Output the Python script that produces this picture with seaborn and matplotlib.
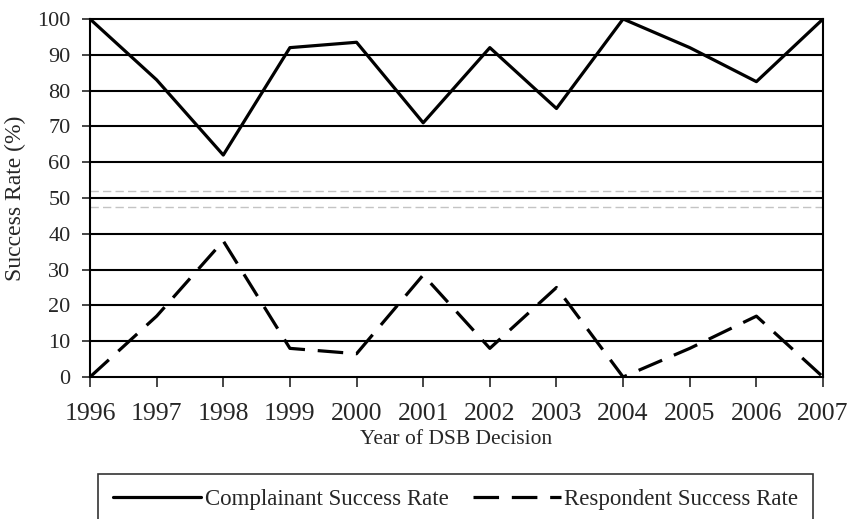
import matplotlib
matplotlib.use("Agg")
import matplotlib.pyplot as plt
import pandas as pd
import seaborn as sns

years = [1996, 1997, 1998, 1999, 2000, 2001, 2002, 2003, 2004, 2005, 2006, 2007]
complainant = [100, 83, 62, 92, 93.5, 71, 92, 75, 100, 92, 82.5, 100]
respondent = [0, 17, 38, 8, 6.5, 28.5, 8, 25, 0, 8, 17, 0]
y_ticks = list(range(0, 101, 10))
faint_band = [47.5, 52]

df = pd.DataFrame({"year": years,
                   "Complainant Success Rate": complainant,
                   "Respondent Success Rate": respondent})

sns.set_style("white")
plt.rcParams["font.family"] = ["Liberation Serif", "DejaVu Serif"]

fig, ax = plt.subplots(figsize=(8.62, 5.19), dpi=100)
fig.subplots_adjust(left=0.1044, right=0.9548, top=0.9634, bottom=0.2736)

# horizontal grid lines
for v in y_ticks[1:-1]:
    ax.axhline(v, color="black", lw=1.5, zorder=1)

# faint scanned band around 50
for v in faint_band:
    ax.axhline(v, color="#c4c4c4", lw=1.0, ls=(0, (6, 3)), zorder=1)

sns.lineplot(data=df, x="year", y="Complainant Success Rate", ax=ax,
             color="black", lw=2.3, label="Complainant Success Rate", zorder=3)
sns.lineplot(data=df, x="year", y="Respondent Success Rate", ax=ax,
             color="black", lw=2.3, linestyle=(0, (8, 4)),
             label="Respondent Success Rate", zorder=3)

ax.set_xlim(years[0], years[-1])
ax.set_ylim(0, 100)
ax.set_xticks(years)
ax.set_yticks(y_ticks)
ax.tick_params(axis="x", direction="out", length=7, width=1.2, pad=12,
               labelsize=18.5, bottom=True)
ax.tick_params(axis="y", direction="out", length=6, width=1.2, pad=8,
               labelsize=16, left=True)

for s in ax.spines.values():
    s.set_color("black")
    s.set_linewidth(1.5)

ax.set_xlabel("Year of DSB Decision", fontsize=15.5, labelpad=3)
ax.set_ylabel("Success Rate (%)", fontsize=17, labelpad=8)

# legend box runs off the bottom edge, as in the scan
leg = ax.legend(loc="upper left", bbox_to_anchor=(0.0109, -0.3709, 0.9755, 0.1),
                mode="expand", borderaxespad=0, ncol=2,
                fontsize=16.5, frameon=True, fancybox=False, shadow=False,
                handlelength=3.85, columnspacing=1.1, handletextpad=0.15,
                borderpad=0.65)
leg.get_frame().set_edgecolor("black")
leg.get_frame().set_linewidth(1.2)

fig.savefig("out.png", dpi=100)
